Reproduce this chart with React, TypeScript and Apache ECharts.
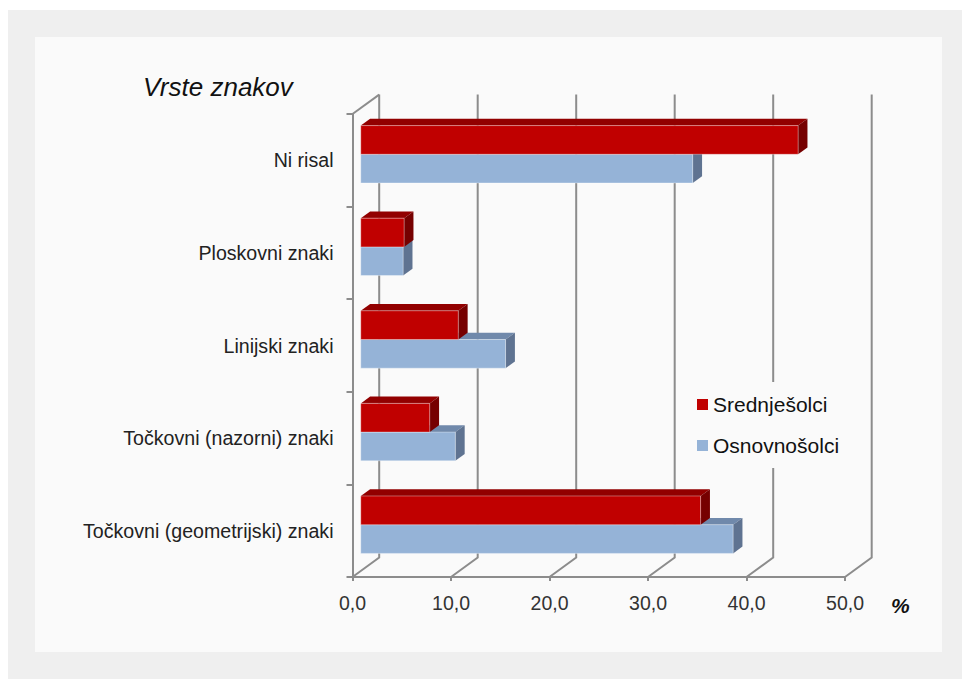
import React, { useEffect, useRef } from "react";
import * as echarts from "echarts";

const categories = [
  "Ni risal",
  "Ploskovni znaki",
  "Linijski znaki",
  "Točkovni (nazorni) znaki",
  "Točkovni (geometrijski) znaki",
];
const seriesNames = ["Srednješolci", "Osnovnošolci"];
const srednjesolci = [44.4, 4.4, 9.9, 7.0, 34.5];
const osnovnosolci = [33.7, 4.3, 14.7, 9.6, 37.8];
const xTicks = [0, 10, 20, 30, 40, 50];
const axisTitle = "Vrste znakov";
const unitLabel = "%";

const DEPTH_X = 26.7;
const DEPTH_Y = -19.4;
const BAR_FRONT = 0.31;
const BAR_BACK = 0.66;
const GRID_COLOR = "#8c8c8c";
const FONT = "'Liberation Sans', Arial, Helvetica, sans-serif";

const RED = { front: "#C00000", top: "#920000", side: "#760000" };
const BLUE = { front: "#95B3D7", top: "#7089ab", side: "#5f7391" };

function barRenderer(kind: "upper" | "lower", colors: { front: string; top: string; side: string }) {
  return (params: any, api: any) => {
    const cat = api.value(1);
    const v = api.value(0);
    const c0 = api.coord([0, cat]);
    const c1 = api.coord([v, cat]);
    const band = api.size([0, 1])[1];
    const h = 0.31 * band;
    const top = kind === "upper" ? c0[1] - h : c0[1];
    const fx = DEPTH_X * BAR_FRONT;
    const fy = DEPTH_Y * BAR_FRONT;
    const dx = DEPTH_X * (BAR_BACK - BAR_FRONT);
    const dy = DEPTH_Y * (BAR_BACK - BAR_FRONT);
    const x0 = c0[0] + fx;
    const x1 = c1[0] + fx;
    const y0 = top + fy;
    return {
      type: "group",
      children: [
        {
          type: "polygon",
          shape: { points: [[x0, y0], [x0 + dx, y0 + dy], [x1 + dx, y0 + dy], [x1, y0]] },
          style: { fill: colors.top },
        },
        {
          type: "polygon",
          shape: { points: [[x1, y0], [x1 + dx, y0 + dy], [x1 + dx, y0 + dy + h], [x1, y0 + h]] },
          style: { fill: colors.side },
        },
        {
          type: "rect",
          shape: { x: x0, y: y0, width: x1 - x0, height: h },
          style: { fill: colors.front, stroke: "rgba(255,255,255,0.35)", lineWidth: 1 },
        },
      ],
    };
  };
}

export default function App() {
  const ref = useRef<HTMLDivElement>(null);
  useEffect(() => {
    if (!ref.current) return;
    const chart = echarts.init(ref.current, undefined, { renderer: "svg" });
    const option: any = {
      animation: false,
      backgroundColor: "#ffffff",
      graphic: [
        { type: "rect", z: -10, shape: { x: 8, y: 10, width: 954, height: 669 }, style: { fill: "#efefef" } },
        { type: "rect", z: -9, shape: { x: 35, y: 37, width: 907, height: 615 }, style: { fill: "#fafafa" } },
        {
          type: "text",
          x: 143,
          y: 87,
          style: {
            text: axisTitle,
            font: `italic normal 26px ${FONT}`,
            fill: "#111",
            verticalAlign: "middle",
          },
        },
        {
          type: "text",
          x: 891,
          y: 605,
          style: {
            text: unitLabel,
            font: `italic bold 21px ${FONT}`,
            fill: "#111",
            verticalAlign: "middle",
          },
        },
      ],
      grid: { left: 352.5, top: 114, width: 492.5, height: 463, containLabel: false },
      legend: {
        orient: "vertical",
        left: 687,
        top: 382,
        padding: [12, 10, 12, 10],
        backgroundColor: "#fafafa",
        itemWidth: 11,
        itemHeight: 11,
        itemGap: 20,
        icon: "rect",
        data: seriesNames,
        textStyle: { fontSize: 21, fontFamily: FONT, color: "#111", lineHeight: 18 },
      },
      xAxis: {
        type: "value",
        min: 0,
        max: 50,
        interval: 10,
        axisLine: { show: true, lineStyle: { color: GRID_COLOR, width: 2 } },
        axisTick: { show: true, length: 4, lineStyle: { color: GRID_COLOR, width: 2 } },
        splitLine: { show: false },
        axisLabel: {
          margin: 16,
          fontSize: 19.5,
          fontFamily: FONT,
          color: "#333",
          formatter: (v: number) => v.toFixed(1).replace(".", ","),
        },
      },
      yAxis: {
        type: "category",
        inverse: true,
        data: categories,
        axisLine: { show: true, lineStyle: { color: GRID_COLOR, width: 2 } },
        axisTick: { show: true, length: 6, lineStyle: { color: GRID_COLOR, width: 2 } },
        axisLabel: { margin: 19, fontSize: 19.6, fontFamily: FONT, color: "#222" },
      },
      series: [
        {
          name: "walls",
          type: "custom",
          silent: true,
          clip: false,
          z: 1,
          data: xTicks.map((t) => [t, 0]),
          renderItem: (params: any, api: any) => {
            const cs = params.coordSys;
            const x = api.coord([api.value(0), 0])[0];
            const yb = cs.y + cs.height;
            const yt = cs.y;
            const style = { stroke: GRID_COLOR, lineWidth: 2, fill: null };
            const children: any[] = [
              {
                type: "polyline",
                shape: { points: [[x, yb], [x + DEPTH_X, yb + DEPTH_Y], [x + DEPTH_X, yt + DEPTH_Y]] },
                style,
              },
            ];
            if (params.dataIndex === 0) {
              children.push({
                type: "line",
                shape: { x1: x, y1: yt, x2: x + DEPTH_X, y2: yt + DEPTH_Y },
                style,
              });
            }
            return { type: "group", children };
          },
        },
        {
          name: seriesNames[1],
          type: "custom",
          clip: false,
          z: 3,
          itemStyle: { color: BLUE.front },
          data: osnovnosolci.map((v, i) => [v, i]),
          renderItem: barRenderer("lower", BLUE),
        },
        {
          name: seriesNames[0],
          type: "custom",
          clip: false,
          z: 4,
          itemStyle: { color: RED.front },
          data: srednjesolci.map((v, i) => [v, i]),
          renderItem: barRenderer("upper", RED),
        },
      ],
    };
    chart.setOption(option);
    return () => chart.dispose();
  }, []);
  return (
    <div
      ref={ref}
      style={{ position: "absolute", left: 0, top: 0, width: 962, height: 679 }}
    />
  );
}
